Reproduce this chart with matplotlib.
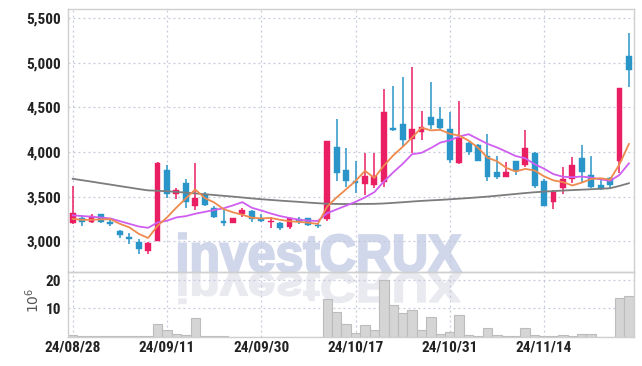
import matplotlib
matplotlib.use('Agg')
import matplotlib.pyplot as plt
from matplotlib import font_manager as fm
from matplotlib.textpath import TextPath
from matplotlib.patches import PathPatch
from matplotlib.transforms import Affine2D
from matplotlib.ticker import FuncFormatter

# --- data (daily, 2024/08/28 .. 2024/11/27) ---
dates = ['24/08/28', '24/08/29', '24/08/30', '24/09/02', '24/09/03', '24/09/04', '24/09/05', '24/09/06',
         '24/09/09', '24/09/10', '24/09/11', '24/09/12', '24/09/13', '24/09/19', '24/09/20', '24/09/23',
         '24/09/24', '24/09/25', '24/09/26', '24/09/27', '24/09/30', '24/10/02', '24/10/04', '24/10/07',
         '24/10/08', '24/10/10', '24/10/11', '24/10/14', '24/10/15', '24/10/16', '24/10/17', '24/10/18',
         '24/10/21', '24/10/22', '24/10/23', '24/10/24', '24/10/25', '24/10/28', '24/10/29', '24/10/30',
         '24/10/31', '24/11/01', '24/11/04', '24/11/05', '24/11/06', '24/11/07', '24/11/08', '24/11/11',
         '24/11/12', '24/11/13', '24/11/14', '24/11/15', '24/11/18', '24/11/19', '24/11/20', '24/11/21',
         '24/11/22', '24/11/25', '24/11/26', '24/11/27']

opens = [3200, 3260, 3215, 3305, 3220, 3110, 3050, 2995, 2885, 3005,
         3800, 3525, 3655, 3400, 3525, 3370, 3230, 3200, 3300, 3340,
         3260, 3215, 3200, 3155, 3245, 3255, 3185, 3250, 4060, 3800,
         3670, 3640, 3630, 3660, 4265, 4315, 4145, 4220, 4390, 4370,
         4260, 3880, 4100, 4080, 3955, 3775, 3725, 3895, 3855, 3985,
         3675, 3445, 3600, 3700, 3930, 3745, 3630, 3705, 3905, 5075]
highs = [3615, 3295, 3310, 3310, 3255, 3125, 3090, 3025, 2990, 3885,
         3860, 3595, 3695, 3875, 3550, 3390, 3370, 3260, 3370, 3345,
         3305, 3275, 3220, 3275, 3270, 3260, 3200, 4125, 4370, 4040,
         3895, 3985, 3985, 4705, 4740, 4840, 4955, 4465, 4790, 4500,
         4445, 4575, 4110, 4090, 4200, 3955, 3885, 3900, 4250, 3995,
         3700, 3575, 3830, 3940, 4080, 3950, 3685, 3725, 4720, 5330]
lows = [3195, 3165, 3200, 3200, 3175, 3035, 2970, 2860, 2855, 3000,
        3480, 3470, 3370, 3345, 3390, 3260, 3170, 3200, 3270, 3220,
        3215, 3145, 3120, 3135, 3195, 3165, 3145, 3230, 3670, 3610,
        3540, 3520, 3595, 3610, 4235, 4070, 3985, 4135, 4255, 4250,
        3880, 3865, 3965, 3895, 3670, 3700, 3715, 3745, 3835, 3600,
        3390, 3360, 3530, 3650, 3655, 3595, 3575, 3585, 3760, 4725]
closes = [3320, 3215, 3285, 3220, 3195, 3065, 3020, 2915, 2985, 3880,
          3525, 3575, 3435, 3480, 3405, 3275, 3200, 3255, 3345, 3245,
          3230, 3230, 3145, 3260, 3215, 3185, 3165, 4125, 3770, 3670,
          3650, 3730, 3730, 4450, 4250, 4130, 4260, 4280, 4305, 4275,
          3910, 4155, 3995, 3905, 3715, 3725, 3775, 3790, 4050, 3620,
          3400, 3550, 3700, 3855, 3780, 3605, 3585, 3625, 4715, 4920]
# volume, millions of shares
volumes = [0.5, 0.1, 0.1, 0.1, 0.1, 0.1, 0.1, 0.1, 0.1, 4.6,
           2.2, 0.8, 0.5, 6.6, 0.2, 0.2, 0.15, 0.05, 0.05, 0.05,
           0.05, 0.05, 0.05, 0.05, 0.05, 0.05, 0.05, 13.2, 8.8, 4.4,
           1.3, 4.0, 2.2, 20.1, 11.2, 8.4, 9.5, 2.5, 7.0, 0.9,
           1.5, 7.7, 0.5, 0.3, 2.9, 0.5, 0.2, 0.2, 2.9, 0.5,
           0.2, 0.2, 0.5, 0.2, 0.8, 1.1, 0.05, 0.05, 13.6, 14.4]

ma5 = [3250, 3240, 3240, 3245, 3246, 3195, 3156, 3083, 3036, 3173,
       3266, 3377, 3480, 3580, 3485, 3435, 3360, 3324, 3296, 3264,
       3255, 3261, 3240, 3223, 3217, 3207, 3194, 3389, 3491, 3582,
       3675, 3789, 3710, 3846, 3962, 4058, 4163, 4273, 4243, 4249,
       4205, 4185, 4128, 4048, 3936, 3898, 3822, 3782, 3811, 3793,
       3728, 3682, 3663, 3625, 3657, 3698, 3706, 3690, 3862, 4090]
ma10 = [3290, 3282, 3275, 3265, 3255, 3225, 3195, 3165, 3150, 3210,
        3230, 3267, 3281, 3308, 3329, 3350, 3369, 3402, 3438, 3375,
        3345, 3311, 3282, 3260, 3241, 3231, 3227, 3314, 3357, 3399,
        3441, 3491, 3550, 3669, 3772, 3867, 3976, 3991, 4045, 4106,
        4132, 4174, 4200, 4146, 4092, 4052, 4004, 3955, 3930, 3864,
        3813, 3752, 3723, 3718, 3725, 3713, 3694, 3677, 3743, 3873]
ma60 = [3700, 3684, 3668, 3651, 3635, 3618, 3602, 3585, 3570, 3566,
        3560, 3553, 3545, 3536, 3527, 3518, 3509, 3500, 3490, 3480,
        3471, 3463, 3455, 3448, 3441, 3433, 3426, 3420, 3418, 3417,
        3417, 3418, 3419, 3423, 3430, 3437, 3445, 3452, 3458, 3463,
        3470, 3477, 3484, 3492, 3500, 3510, 3520, 3530, 3540, 3549,
        3556, 3562, 3568, 3573, 3578, 3583, 3588, 3594, 3620, 3650]

price_ticks = [3000, 3500, 4000, 4500, 5000, 5500]
vol_ticks = [10, 20]
date_ticks = [0, 10, 20, 30, 40, 50]

UP = '#e91e63'
DOWN = '#2a95c8'
GRID = '#c5c9dc'
SPINE = '#cfcfcf'


def pick_font(names):
    for n in names:
        try:
            fm.findfont(fm.FontProperties(family=n), fallback_to_default=False)
            return n
        except Exception:
            pass
    return 'DejaVu Sans'


lab_font = pick_font(['Liberation Sans Narrow', 'Roboto Condensed', 'DejaVu Sans'])
wm_font = pick_font(['Liberation Sans', 'DejaVu Sans'])

W, H = 642, 366
fig = plt.figure(figsize=(W / 100, H / 100), dpi=100)
fig.patch.set_facecolor('white')

ax = fig.add_axes([68 / W, (H - 271.6) / H, 565.6 / W, 262.3 / H])
axv = fig.add_axes([68 / W, (H - 336.7) / H, 565.6 / W, 65.1 / H], sharex=ax)

# watermark + reflection behind the (transparent) axes
tp = TextPath((0, 0), 'investCRUX', size=50, prop=fm.FontProperties(family=wm_font, weight='bold'))
bb = tp.get_extents()
sx = 282 / bb.width
sy = 38 / 36.0
x0 = 179 - bb.x0 * sx
base = H - 271.5
t_main = Affine2D().scale(sx / W, sy / H).translate(x0 / W, base / H) + fig.transFigure
t_refl = Affine2D().scale(sx / W, -0.78 * sy / H).translate(x0 / W, (base - 2) / H) + fig.transFigure
fig.patches.append(PathPatch(tp, transform=t_refl, facecolor='#e9e9f0', edgecolor='#e9e9f0',
                             linewidth=1.2, zorder=-2))
fig.patches.append(PathPatch(tp, transform=t_main, facecolor='#d1d7ea', edgecolor='#d1d7ea',
                             linewidth=1.6, zorder=-2))

for a in (ax, axv):
    a.set_facecolor('none')
    for s in a.spines.values():
        s.set_color(SPINE)
        s.set_linewidth(1.0)
    a.grid(True, color=GRID, linestyle=(0, (1.5, 2.5)), linewidth=0.9)
    a.set_axisbelow(True)
    a.tick_params(length=0, labelsize=11, labelcolor='#222222', pad=5)

xs = list(range(len(closes)))

# candles
for i in xs:
    o, h, l, c = opens[i], highs[i], lows[i], closes[i]
    col = UP if c >= o else DOWN
    ax.vlines(i, l, h, color=col, linewidth=1.1, zorder=2)
    lo = min(o, c)
    hgt = max(abs(c - o), 12)
    ax.bar(i, hgt, bottom=lo, width=0.62, color=col, edgecolor=col, linewidth=0.3, zorder=3)

ax.plot(xs, ma60, color='#7c7c7c', linewidth=1.3, zorder=4)
ax.plot(xs, ma10, color='#cf5ef0', linewidth=1.3, zorder=4)
ax.plot(xs, ma5, color='#ef8a4e', linewidth=1.3, zorder=5)

ax.set_xlim(-0.5, len(closes) - 0.5)
ax.set_ylim(2659, 5601)
ax.set_yticks(price_ticks)
ax.yaxis.set_major_formatter(FuncFormatter(lambda v, p: f'{v:,.0f}'))
ax.tick_params(labelbottom=False)

# volume
axv.bar(xs, volumes, width=1.0, color='#d5d5d5', edgecolor='#bcbcbc', linewidth=0.8, zorder=2)
axv.set_ylim(0, 23)
axv.set_yticks(vol_ticks)
axv.set_xticks(date_ticks)
axv.set_xticklabels([dates[i] for i in date_ticks])
axv.tick_params(axis='x', pad=3)

for lab in ax.get_yticklabels() + axv.get_yticklabels() + axv.get_xticklabels():
    lab.set_fontfamily(lab_font)
    lab.set_fontweight('bold')

fig.text(33 / W, (H - 300) / H, r'$10^6$', rotation=90, ha='center', va='center',
         fontsize=10, family='DejaVu Serif', color='#555555')

fig.savefig('out.png', dpi=100, facecolor='white')
